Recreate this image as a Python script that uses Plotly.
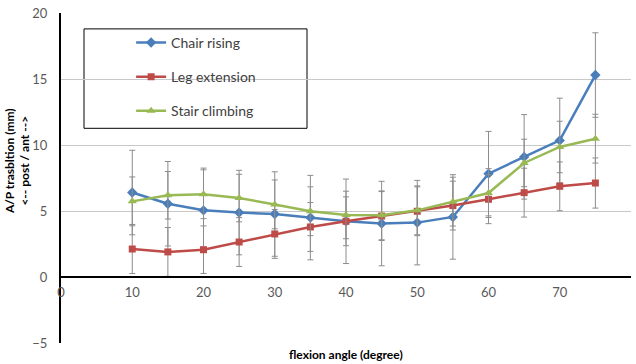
import plotly.graph_objects as go

angles = [10, 15, 20, 25, 30, 35, 40, 45, 50, 55, 60, 65, 70, 75]

chair_rising = [6.4, 5.55, 5.05, 4.88, 4.77, 4.5, 4.22, 4.05, 4.12, 4.55, 7.83, 9.1, 10.35, 15.3]
chair_err = [3.2, 3.2, 3.2, 3.2, 3.2, 3.2, 3.2, 3.2, 3.2, 3.2, 3.2, 3.2, 3.2, 3.2]

leg_extension = [2.12, 1.9, 2.07, 2.65, 3.26, 3.79, 4.22, 4.62, 4.98, 5.41, 5.89, 6.39, 6.87, 7.12]
leg_err = [1.86, 1.85, 1.8, 1.85, 1.85, 1.85, 1.85, 1.85, 1.85, 1.85, 1.85, 1.85, 1.85, 1.9]

stair_climbing = [5.73, 6.19, 6.27, 5.98, 5.5, 4.98, 4.7, 4.67, 5.05, 5.71, 6.36, 8.64, 9.85, 10.48]
stair_err = [1.85, 1.8, 1.85, 1.8, 1.85, 1.85, 1.8, 1.85, 1.85, 1.85, 1.85, 1.8, 1.95, 1.85]

x_ticks = [0, 10, 20, 30, 40, 50, 60, 70, 80]
y_ticks = [-5, 0, 5, 10, 15, 20]

FONT = "Lato, 'Liberation Sans', sans-serif"
ERR_COLOR = "#8c8c8c"

series = [
    ("Chair rising", chair_rising, chair_err, "#4A7EBB", "diamond", 8),
    ("Leg extension", leg_extension, leg_err, "#BE4B48", "square", 7),
    ("Stair climbing", stair_climbing, stair_err, "#98B954", "triangle-up", 8),
]

fig = go.Figure()
for i, (name, vals, errs, color, sym, msize) in enumerate(series):
    fig.add_trace(go.Scatter(
        x=angles, y=vals, name=name, mode="lines+markers",
        legendgroup=f"g{i}",
        line=dict(color=color, width=2.5),
        marker=dict(symbol=sym, size=msize, color=color),
        error_y=dict(type="data", array=errs, visible=True,
                     color=ERR_COLOR, thickness=1, width=3),
    ))

fig.update_layout(
    width=636, height=364,
    margin=dict(l=61, r=5, t=11, b=21),
    paper_bgcolor="white", plot_bgcolor="white",
    font=dict(family=FONT, size=13, color="#595959"),
    showlegend=True,
    legend=dict(
        x=0.123, y=0.958, xanchor="left", yanchor="top",
        bgcolor="rgba(0,0,0,0)", borderwidth=0,
        traceorder="grouped", tracegroupgap=13,
        font=dict(family=FONT, size=14, color="#404040"),
    ),
    xaxis=dict(
        range=[0, 80], tickvals=x_ticks, showgrid=False,
        anchor="free", position=0.2,
        showline=True, linecolor="black", linewidth=2,
        ticks="", zeroline=False, ticklabelstandoff=3,
        tickfont=dict(family=FONT, size=13, color="#595959"),
    ),
    yaxis=dict(
        range=[-5, 20], tickvals=y_ticks, showgrid=True,
        gridcolor="#c8c8c8", gridwidth=1,
        showline=True, linecolor="black", linewidth=2,
        zeroline=False, ticks="", ticklabelstandoff=9,
        tickfont=dict(family=FONT, size=13, color="#595959"),
    ),
    shapes=[dict(
        type="rect", xref="paper", yref="paper",
        x0=(84 - 61) / 570, x1=(307 - 61) / 570,
        y0=(343 - 127) / 332, y1=(343 - 27) / 332,
        line=dict(color="black", width=1), fillcolor="white", layer="below",
    )],
    annotations=[
        dict(text="<b>flexion angle (degree)</b>", xref="paper", yref="paper",
             x=0.5, y=0, yshift=-11, showarrow=False, yanchor="middle",
             font=dict(family=FONT, size=12, color="black")),
        dict(text="<b>A/P trasbltion (mm)<br>&lt;-- post / ant --&gt;</b>",
             xref="paper", yref="paper", x=0, xshift=-44,
             y=(343 - 160) / 332, textangle=-90, showarrow=False,
             xanchor="center", yanchor="middle",
             font=dict(family=FONT, size=12, color="black")),
    ],
)

fig.write_html("out.html")
